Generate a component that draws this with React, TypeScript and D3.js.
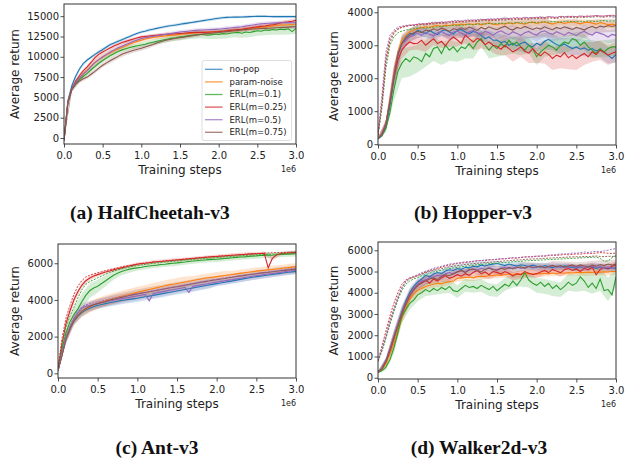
import React, { useEffect, useRef } from "react";
import * as d3 from "d3";

// tab10 colours, one per method
const COLORS = ["#1f77b4", "#ff7f0e", "#2ca02c", "#d62728", "#9467bd", "#8c564b"];
const NAMES = ["no-pop", "param-noise", "ERL(m=0.1)", "ERL(m=0.25)", "ERL(m=0.5)", "ERL(m=0.75)"];

// training steps (x 1e6), every 0.05e6
const steps = d3.range(61).map((i) => i * 0.05);
const xTicks = [0, 0.5, 1, 1.5, 2, 2.5, 3];

// ---------------- HalfCheetah-v3 ----------------
const hcNoPop = [
  -300, 4600, 6400, 7600, 8500, 9200, 9600, 9950, 10300, 10600,
  10900, 11200, 11500, 11700, 11900, 12100, 12300, 12500, 12700, 12900,
  13050, 13150, 13300, 13400, 13500, 13600, 13700, 13800, 13850, 13920,
  14000, 14080, 14150, 14220, 14300, 14380, 14450, 14520, 14600, 14680,
  14750, 14800, 14850, 14870, 14900, 14880, 14900, 14920, 14950, 14960,
  15000, 14980, 15000, 14970, 14950, 14960, 14950, 14940, 14950, 14960,
  14950,
];
const hcParam = [
  -300, 4400, 6000, 6800, 7400, 7900, 8350, 8850, 9300, 9650,
  9950, 10250, 10500, 10750, 10950, 11150, 11350, 11550, 11750, 11900,
  12050, 12180, 12300, 12380, 12450, 12500, 12550, 12600, 12650, 12700,
  12750, 12800, 12850, 12900, 12950, 12980, 13000, 13020, 13050, 13080,
  13100, 13150, 13200, 13250, 13300, 13350, 13400, 13450, 13500, 13550,
  13600, 13650, 13700, 13750, 13800, 13850, 13900, 13920, 13950, 13980,
  14000,
];
const hcM01 = [
  -300, 4300, 6000, 6700, 7200, 7600, 7950, 8400, 8800, 9200,
  9550, 9850, 10150, 10400, 10650, 10850, 11000, 11150, 11250, 11350,
  11450, 11550, 11700, 11800, 11900, 12000, 12100, 12200, 12300, 12350,
  12450, 12500, 12600, 12650, 12700, 12750, 12750, 12650, 12700, 12800,
  12750, 12850, 12800, 12900, 12950, 13000, 12900, 13050, 13000, 13100,
  13200, 13150, 13300, 13250, 13350, 13300, 13400, 13350, 13450, 13100,
  13500,
];
const hcM025 = [
  -300, 4400, 6000, 7000, 7700, 8300, 8750, 9300, 9900, 10300,
  10600, 10850, 11100, 11350, 11550, 11750, 11900, 12050, 12200, 12350,
  12450, 12500, 12550, 12600, 12650, 12700, 12750, 12780, 12800, 12830,
  12870, 12900, 12950, 12980, 13000, 13000, 13000, 13020, 13050, 13080,
  13100, 13150, 13200, 13250, 13300, 13350, 13400, 13480, 13550, 13620,
  13680, 13740, 13800, 13880, 13950, 14050, 14150, 14250, 14300, 14380,
  14480,
];
const hcM05 = [
  -300, 4400, 6000, 6800, 7400, 7900, 8300, 8800, 9300, 9650,
  10000, 10300, 10600, 10850, 11100, 11300, 11500, 11700, 11900, 12080,
  12250, 12350, 12450, 12520, 12600, 12680, 12750, 12820, 12900, 12980,
  13050, 13100, 13150, 13200, 13250, 13280, 13300, 13320, 13350, 13380,
  13400, 13450, 13500, 13550, 13600, 13650, 13700, 13780, 13850, 13920,
  14000, 14050, 14100, 14130, 14150, 14180, 14200, 14200, 14220, 14200,
  14200,
];
const hcM075 = [
  -300, 4300, 6000, 6600, 7000, 7300, 7500, 7850, 8200, 8600,
  8950, 9250, 9550, 9800, 10050, 10300, 10500, 10650, 10800, 10920,
  11050, 11200, 11350, 11500, 11700, 11850, 12000, 12100, 12200, 12280,
  12350, 12420, 12500, 12580, 12650, 12720, 12800, 12850, 12900, 12950,
  13000, 13050, 13100, 13150, 13200, 13250, 13300, 13350, 13400, 13420,
  13450, 13480, 13500, 13520, 13550, 13580, 13600, 13620, 13650, 13680,
  13700,
];
// std band, every 0.1e6
const hcSd = [
  [50, 300, 250, 200, 200, 200, 200, 200, 200, 180, 180, 180, 180, 180, 180, 180, 180, 180, 180, 180, 180, 180, 150, 150, 150, 150, 150, 150, 150, 150, 150],
  [50, 300, 300, 350, 400, 400, 400, 350, 350, 300, 300, 300, 300, 300, 300, 300, 300, 300, 300, 300, 300, 300, 300, 300, 300, 300, 300, 300, 300, 300, 300],
  [50, 300, 300, 250, 300, 300, 300, 300, 300, 300, 300, 300, 350, 400, 400, 450, 450, 450, 500, 500, 550, 550, 550, 550, 600, 600, 650, 650, 700, 700, 700],
  [50, 300, 250, 250, 250, 250, 200, 200, 200, 200, 200, 200, 200, 200, 200, 200, 200, 200, 200, 200, 200, 200, 250, 250, 250, 250, 250, 250, 250, 250, 250],
  [50, 300, 300, 300, 300, 300, 300, 300, 300, 250, 250, 250, 250, 250, 250, 250, 250, 250, 250, 250, 250, 250, 250, 250, 250, 250, 250, 250, 250, 250, 250],
  [50, 300, 250, 250, 250, 250, 300, 300, 300, 300, 300, 300, 250, 250, 250, 250, 250, 250, 250, 250, 250, 250, 250, 250, 250, 250, 250, 250, 250, 250, 250],
];

// ---------------- Hopper-v3 ----------------
const hoNoPop = [
  160, 250, 500, 1150, 2000, 2700, 3050, 3250, 3360, 3330,
  3460, 3400, 3350, 3450, 3380, 3320, 3430, 3470, 3400, 3340,
  3450, 3480, 3400, 3350, 3420, 3380, 3300, 3200, 3250, 3150,
  3160, 3080, 3120, 3000, 3060, 2980, 3050, 3100, 3000, 2950,
  3060, 3000, 3120, 3180, 3100, 3020, 2980, 3040, 2960, 2900,
  2950, 2880, 2920, 2850, 2900, 2830, 2870, 2800, 2700, 2600,
  2720,
];
const hoParam = [
  180, 320, 650, 1350, 2150, 2800, 3150, 3300, 3400, 3460,
  3510, 3530, 3560, 3540, 3580, 3600, 3570, 3610, 3590, 3630,
  3610, 3640, 3620, 3650, 3630, 3660, 3620, 3650, 3680, 3640,
  3620, 3660, 3640, 3680, 3650, 3690, 3660, 3640, 3680, 3700,
  3660, 3690, 3710, 3670, 3640, 3680, 3700, 3660, 3690, 3710,
  3680, 3650, 3690, 3700, 3670, 3640, 3690, 3660, 3620, 3640,
  3610,
];
const hoM01 = [
  170, 260, 480, 950, 1650, 2200, 2450, 2600, 2500, 2650,
  2600, 2500, 2750, 2650, 2900, 2950, 2750, 3000, 2850, 2950,
  2800, 2950, 2900, 3050, 2900, 3100, 3200, 3000, 2850, 3000,
  2900, 3050, 2950, 3150, 3000, 3100, 2950, 2850, 3000, 2900,
  2650, 2800, 2900, 3000, 2950, 2850, 3000, 3100, 3050, 3200,
  3150, 3000, 3100, 2950, 2850, 2750, 2900, 2800, 2900, 2950,
  2950,
];
const hoM025 = [
  180, 300, 620, 1300, 2000, 2550, 2850, 3000, 3100, 3050,
  3060, 3150, 3000, 3100, 3200, 3050, 3120, 2980, 3150, 3250,
  3160, 3050, 3310, 3200, 3100, 3210, 3150, 3020, 3100, 3000,
  2960, 2880, 3000, 2900, 2800, 2860, 2950, 2820, 2760, 2900,
  2760, 2680, 2800, 2720, 2600, 2700, 2650, 2780, 2620, 2700,
  2600, 2680, 2750, 2650, 2800, 2720, 2850, 2780, 2700, 2760,
  2800,
];
const hoM05 = [
  180, 310, 650, 1300, 2100, 2750, 3050, 3150, 3260, 3300,
  3360, 3300, 3400, 3330, 3280, 3380, 3420, 3350, 3300, 3400,
  3430, 3360, 3310, 3400, 3450, 3380, 3330, 3420, 3380, 3300,
  3390, 3440, 3370, 3320, 3410, 3360, 3300, 3380, 3420, 3350,
  3310, 3400, 3440, 3370, 3330, 3410, 3360, 3300, 3390, 3350,
  3290, 3380, 3420, 3350, 3310, 3400, 3360, 3320, 3250, 3330,
  3300,
];
const hoM075 = [
  180, 300, 600, 1250, 2050, 2700, 3050, 3200, 3300, 3380,
  3420, 3380, 3460, 3430, 3500, 3450, 3520, 3480, 3420, 3500,
  3470, 3530, 3480, 3550, 3500, 3450, 3540, 3490, 3560, 3510,
  3470, 3530, 3580, 3500, 3460, 3540, 3510, 3570, 3520, 3480,
  3530, 3490, 3560, 3510, 3470, 3540, 3500, 3560, 3520, 3480,
  3540, 3510, 3460, 3530, 3570, 3520, 3580, 3550, 3600, 3570,
  3600,
];
// best member of the population (dashed)
const hoBestM01 = [
  250, 1100, 2300, 3000, 3250, 3380, 3430, 3460, 3480, 3500,
  3520, 3530, 3510, 3550, 3540, 3560, 3580, 3570, 3590, 3600,
  3610, 3600, 3620, 3630, 3620, 3640, 3650, 3640, 3660, 3650,
  3660, 3670, 3660, 3680, 3670, 3690, 3680, 3670, 3690, 3700,
  3690, 3700, 3710, 3700, 3720, 3710, 3700, 3720, 3730, 3710,
  3720, 3730, 3720, 3740, 3730, 3720, 3740, 3750, 3730, 3740,
  3730,
];
const hoBestM025 = [
  280, 1300, 2600, 3200, 3400, 3500, 3550, 3580, 3600, 3620,
  3630, 3640, 3660, 3650, 3670, 3690, 3680, 3700, 3710, 3720,
  3730, 3720, 3740, 3750, 3760, 3750, 3770, 3780, 3770, 3790,
  3780, 3800, 3790, 3810, 3800, 3820, 3810, 3830, 3820, 3840,
  3830, 3850, 3840, 3860, 3850, 3840, 3870, 3860, 3880, 3870,
  3860, 3880, 3870, 3890, 3880, 3900, 3890, 3880, 3900, 3910,
  3900,
];
const hoBestM05 = [
  300, 1500, 2800, 3300, 3450, 3550, 3580, 3600, 3620, 3610,
  3650, 3660, 3640, 3680, 3700, 3690, 3710, 3700, 3720, 3740,
  3750, 3740, 3760, 3770, 3760, 3780, 3790, 3780, 3800, 3790,
  3810, 3800, 3820, 3810, 3830, 3840, 3820, 3850, 3840, 3830,
  3850, 3860, 3840, 3870, 3860, 3850, 3880, 3870, 3860, 3880,
  3870, 3890, 3880, 3870, 3890, 3900, 3880, 3890, 3900, 3890,
  3880,
];
const hoBestM075 = [
  260, 1200, 2500, 3100, 3350, 3480, 3540, 3570, 3600, 3590,
  3620, 3630, 3610, 3650, 3640, 3660, 3670, 3660, 3690, 3680,
  3700, 3710, 3700, 3720, 3730, 3720, 3740, 3750, 3740, 3760,
  3750, 3770, 3760, 3780, 3770, 3790, 3780, 3800, 3790, 3810,
  3800, 3820, 3810, 3830, 3820, 3810, 3840, 3830, 3850, 3840,
  3830, 3850, 3840, 3860, 3850, 3870, 3860, 3850, 3870, 3860,
  3850,
];
const hoSd = [
  [30, 100, 300, 200, 150, 150, 150, 150, 150, 150, 150, 150, 150, 150, 200, 200, 200, 200, 250, 250, 250, 250, 250, 250, 250, 250, 250, 250, 250, 250, 250],
  [30, 100, 300, 200, 120, 100, 100, 100, 100, 100, 100, 100, 100, 100, 100, 100, 100, 100, 100, 100, 100, 100, 100, 100, 100, 100, 100, 100, 100, 100, 100],
  [30, 120, 350, 450, 450, 420, 400, 380, 350, 320, 300, 300, 300, 250, 250, 250, 250, 250, 250, 250, 250, 250, 250, 250, 250, 250, 250, 250, 250, 250, 250],
  [30, 100, 300, 250, 250, 200, 200, 200, 200, 200, 200, 250, 250, 250, 250, 250, 300, 300, 300, 300, 300, 350, 350, 350, 350, 350, 350, 300, 300, 300, 300],
  [30, 100, 300, 200, 150, 150, 150, 150, 150, 150, 150, 150, 150, 150, 150, 150, 200, 200, 200, 200, 200, 200, 200, 200, 200, 200, 200, 200, 200, 200, 200],
  [30, 100, 300, 250, 200, 200, 200, 200, 200, 250, 250, 250, 250, 250, 250, 300, 300, 300, 300, 300, 300, 300, 250, 250, 250, 250, 250, 200, 200, 200, 200],
];

// ---------------- Ant-v3 ----------------
const anNoPop = [
  150, 1000, 1900, 2450, 2850, 3100, 3300, 3450, 3550, 3640,
  3700, 3750, 3800, 3850, 3890, 3930, 3970, 4000, 4030, 4060,
  4090, 4130, 4170, 4210, 4250, 4290, 4330, 4370, 4410, 4450,
  4490, 4530, 4570, 4610, 4650, 4690, 4730, 4770, 4810, 4850,
  4890, 4920, 4960, 5000, 5040, 5080, 5120, 5160, 5200, 5240,
  5270, 5300, 5330, 5360, 5390, 5420, 5450, 5480, 5510, 5530,
  5550,
];
const anParam = [
  150, 1000, 1900, 2500, 2900, 3150, 3350, 3500, 3620, 3720,
  3800, 3880, 3950, 4020, 4080, 4140, 4200, 4260, 4310, 4360,
  4420, 4470, 4520, 4570, 4620, 4670, 4720, 4770, 4820, 4860,
  4900, 4940, 4980, 5020, 5060, 5100, 5140, 5180, 5210, 5240,
  5270, 5300, 5330, 5360, 5390, 5420, 5450, 5480, 5510, 5540,
  5570, 5600, 5620, 5640, 5660, 5690, 5710, 5740, 5760, 5790,
  5820,
];
const anM01 = [
  200, 1300, 2200, 2800, 3200, 3500, 3900, 4250, 4500, 4650,
  4750, 4900, 5050, 5200, 5350, 5450, 5550, 5620, 5680, 5720,
  5750, 5780, 5820, 5850, 5880, 5900, 5930, 5950, 5980, 6000,
  6020, 6050, 6070, 6100, 6120, 6140, 6160, 6180, 6200, 6210,
  6220, 6240, 6260, 6280, 6300, 6320, 6340, 6350, 6370, 6390,
  6400, 6420, 6430, 6450, 6440, 6460, 6480, 6490, 6500, 6510,
  6520,
];
const anM025 = [
  200, 1600, 2700, 3400, 4000, 4450, 4800, 5050, 5200, 5300,
  5380, 5450, 5520, 5580, 5640, 5700, 5750, 5800, 5850, 5900,
  5950, 5980, 6000, 6030, 6060, 6080, 6100, 6120, 6140, 6160,
  6180, 6200, 6220, 6240, 6260, 6280, 6300, 6320, 6340, 6360,
  6370, 6390, 6400, 6420, 6440, 6450, 6470, 6480, 6500, 6510,
  6520, 6530, 6540, 5750, 6250, 6450, 6520, 6540, 6560, 6580,
  6590,
];
const anM05 = [
  150, 1000, 1900, 2500, 2950, 3300, 3550, 3650, 3700, 3750,
  3800, 3850, 3900, 3940, 3980, 4020, 4060, 4100, 4140, 4180,
  4220, 4260, 4300, 3950, 4350, 4400, 4440, 4480, 4520, 4560,
  4600, 4640, 4680, 4400, 4740, 4780, 4820, 4860, 4900, 4940,
  4980, 5010, 5040, 5080, 5110, 5150, 5180, 5220, 5250, 5290,
  5320, 5350, 5380, 5410, 5440, 5470, 5500, 5530, 5560, 5590,
  5620,
];
const anM075 = [
  150, 950, 1850, 2400, 2850, 3150, 3380, 3530, 3640, 3740,
  3800, 3860, 3920, 3980, 4040, 4090, 4140, 4190, 4240, 4290,
  4330, 4370, 4410, 4450, 4490, 4530, 4570, 4610, 4650, 4690,
  4720, 4760, 4800, 4840, 4880, 4920, 4960, 5000, 5030, 5070,
  5100, 5140, 5170, 5210, 5240, 5280, 5310, 5340, 5370, 5400,
  5430, 5460, 5490, 5510, 5540, 5560, 5590, 5610, 5640, 5660,
  5680,
];
const anBestM01 = [
  250, 1500, 2500, 3100, 3600, 4100, 4550, 4850, 5000, 5100,
  5200, 5300, 5400, 5500, 5570, 5640, 5700, 5750, 5800, 5840,
  5880, 5910, 5940, 5970, 6000, 6030, 6050, 6070, 6090, 6110,
  6130, 6150, 6170, 6190, 6210, 6230, 6250, 6270, 6280, 6300,
  6310, 6330, 6350, 6360, 6380, 6390, 6410, 6420, 6440, 6450,
  6460, 6470, 6480, 6490, 6500, 6510, 6520, 6530, 6540, 6550,
  6560,
];
const anBestM025 = [
  300, 1900, 3000, 3700, 4300, 4750, 5050, 5250, 5350, 5420,
  5480, 5540, 5600, 5650, 5700, 5750, 5800, 5840, 5880, 5920,
  5960, 5990, 6020, 6040, 6070, 6090, 6110, 6130, 6150, 6170,
  6190, 6210, 6230, 6250, 6270, 6290, 6310, 6330, 6340, 6360,
  6380, 6390, 6410, 6430, 6440, 6460, 6470, 6490, 6500, 6520,
  6530, 6540, 6550, 6560, 6570, 6580, 6580, 6590, 6600, 6610,
  6620,
];
const anBestM05 = [
  200, 1100, 2000, 2600, 3050, 3400, 3620, 3720, 3790, 3850,
  3900, 3950, 4000, 4050, 4100, 4140, 4180, 4220, 4260, 4300,
  4340, 4380, 4420, 4460, 4500, 4540, 4580, 4620, 4660, 4700,
  4740, 4780, 4820, 4860, 4900, 4940, 4980, 5020, 5060, 5100,
  5130, 5160, 5200, 5230, 5260, 5290, 5320, 5350, 5380, 5410,
  5440, 5470, 5500, 5530, 5560, 5590, 5620, 5650, 5680, 5710,
  5740,
];
const anSd = [
  [50, 250, 200, 200, 200, 200, 200, 200, 200, 200, 200, 200, 200, 200, 200, 200, 200, 200, 200, 200, 150, 150, 150, 150, 150, 150, 150, 150, 150, 150, 150],
  [50, 250, 250, 300, 300, 300, 300, 300, 300, 300, 300, 300, 300, 300, 300, 300, 300, 250, 250, 250, 250, 250, 200, 200, 200, 200, 200, 200, 200, 200, 200],
  [50, 300, 400, 450, 400, 350, 300, 250, 200, 200, 150, 150, 150, 150, 150, 150, 150, 150, 150, 150, 150, 150, 150, 150, 150, 150, 150, 150, 150, 150, 150],
  [50, 250, 200, 150, 120, 100, 100, 100, 100, 100, 100, 100, 100, 100, 100, 100, 100, 100, 100, 100, 100, 100, 100, 100, 100, 100, 100, 100, 100, 100, 100],
  [50, 250, 250, 250, 250, 250, 250, 250, 250, 250, 250, 250, 250, 250, 250, 250, 250, 250, 250, 250, 200, 200, 200, 200, 200, 200, 200, 200, 200, 200, 200],
  [50, 250, 250, 250, 250, 250, 250, 250, 250, 250, 250, 250, 250, 250, 250, 250, 250, 250, 250, 250, 200, 200, 200, 200, 200, 200, 200, 200, 200, 200, 200],
];

// ---------------- Walker2d-v3 ----------------
const waNoPop = [
  280, 450, 800, 1300, 1900, 2500, 3100, 3600, 4000, 4300,
  4500, 4650, 4820, 4750, 4880, 4950, 4900, 5020, 5080, 5050,
  5140, 5100, 5200, 5170, 5250, 5220, 5300, 5260, 5320, 5350,
  5380, 5330, 5280, 5350, 5300, 5260, 5320, 5280, 5240, 5300,
  5250, 5200, 5280, 5230, 5180, 5260, 5210, 5270, 5230, 5190,
  5160, 5220, 5180, 5240, 5200, 5150, 5210, 5170, 5120, 5180,
  5140,
];
const waParam = [
  260, 380, 650, 1100, 1600, 2200, 2800, 3300, 3700, 3950,
  4100, 4200, 4300, 4350, 4400, 4450, 4420, 4480, 4520, 4550,
  4680, 4700, 4720, 4740, 4700, 4760, 4780, 4770, 4800, 4820,
  4850, 4820, 4860, 4880, 4860, 4890, 4870, 4900, 4910, 4890,
  4880, 4900, 4920, 4890, 4930, 4910, 4940, 4920, 4950, 4930,
  4950, 4960, 4940, 4970, 4960, 4980, 4970, 4990, 4980, 5000,
  5000,
];
const waM01 = [
  250, 330, 500, 850, 1400, 2100, 2900, 3200, 3500, 3650,
  3900, 4000, 4150, 4050, 4200, 4100, 4250, 4150, 4300, 4100,
  4050, 4200, 4350, 4250, 4300, 4200, 4350, 4250, 4150, 4300,
  4100, 4250, 4400, 4300, 4550, 4350, 4600, 4950, 4600, 4450,
  4350, 4500, 4300, 4450, 4200, 4350, 4150, 4300, 4500, 4350,
  4450, 4750, 4550, 4250, 4450, 4200, 4650, 4100, 4150, 3900,
  4750,
];
const waM025 = [
  270, 420, 750, 1250, 1850, 2450, 3000, 3500, 3900, 4150,
  4350, 4500, 4600, 4450, 4650, 4550, 4700, 4800, 4680, 4750,
  4850, 4780, 4900, 4820, 4950, 5050, 4900, 4980, 4850, 5000,
  4960, 4880, 5000, 4920, 4780, 4900, 4850, 5000, 4920, 4860,
  4900, 4980, 5050, 4950, 5100, 5020, 4950, 5080, 5150, 5050,
  5120, 5000, 5150, 5080, 5200, 4850, 5100, 5200, 5150, 5250,
  5300,
];
const waM05 = [
  270, 440, 800, 1350, 1950, 2500, 3050, 3500, 3900, 4200,
  4400, 4550, 4600, 4700, 4750, 4820, 4780, 4900, 4950, 4880,
  5000, 5050, 4980, 5080, 5120, 5060, 5150, 5100, 5180, 5120,
  5080, 5160, 5200, 5130, 5180, 5220, 5150, 5190, 5240, 5170,
  5200, 5250, 5180, 5230, 5270, 5200, 5240, 5180, 5220, 5260,
  5200, 5240, 5180, 5220, 5260, 5190, 5230, 5170, 5210, 5150,
  5190,
];
const waM075 = [
  270, 430, 780, 1300, 1900, 2450, 3000, 3450, 3850, 4150,
  4350, 4450, 4550, 4650, 4700, 4620, 4780, 4850, 4800, 4900,
  4980, 5050, 4950, 5080, 5120, 5050, 4980, 5100, 5150, 5080,
  5060, 5150, 5100, 5200, 5120, 5180, 5220, 5150, 5250, 5200,
  5210, 5260, 5180, 5240, 5290, 5220, 5280, 5200, 5260, 5300,
  5240, 5310, 5260, 5200, 5300, 5250, 5330, 5280, 5350, 5300,
  5360,
];
const waBestM01 = [
  760, 1250, 1850, 2500, 3100, 3650, 4100, 4400, 4550, 4650,
  4720, 4800, 4860, 4920, 4980, 5020, 5060, 5100, 5140, 5170,
  5200, 5220, 5250, 5270, 5300, 5320, 5330, 5350, 5370, 5380,
  5400, 5410, 5430, 5440, 5460, 5470, 5480, 5500, 5510, 5520,
  5530, 5540, 5550, 5560, 5570, 5580, 5590, 5600, 5610, 5620,
  5630, 5640, 5650, 5660, 5670, 5680, 5620, 5480, 5500, 5650,
  5760,
];
const waBestM025 = [
  800, 1500, 2200, 2900, 3500, 4000, 4400, 4600, 4700, 4750,
  4820, 4900, 4980, 5050, 5100, 5160, 5200, 5260, 5300, 5340,
  5380, 5400, 5420, 5450, 5470, 5500, 5520, 5510, 5540, 5560,
  5570, 5590, 5600, 5620, 5640, 5630, 5660, 5680, 5700, 5690,
  5710, 5730, 5720, 5750, 5770, 5760, 5780, 5800, 5790, 5810,
  5830, 5820, 5840, 5860, 5850, 5870, 5890, 5880, 5860, 5850,
  5870,
];
const waBestM05 = [
  800, 1400, 2000, 2700, 3250, 3800, 4250, 4550, 4700, 4780,
  4850, 4950, 5020, 5080, 5150, 5200, 5250, 5300, 5350, 5380,
  5400, 5430, 5460, 5450, 5490, 5520, 5510, 5550, 5570, 5560,
  5580, 5610, 5600, 5630, 5650, 5640, 5670, 5690, 5680, 5710,
  5730, 5720, 5750, 5780, 5770, 5800, 5830, 5820, 5850, 5870,
  5860, 5890, 5920, 5900, 5930, 5950, 5940, 5970, 6000, 6050,
  6080,
];
const waBestM075 = [
  780, 1300, 1900, 2600, 3200, 3750, 4200, 4500, 4650, 4720,
  4800, 4870, 4940, 5000, 5050, 5100, 5140, 5180, 5220, 5250,
  5280, 5300, 5330, 5350, 5370, 5390, 5400, 5420, 5440, 5450,
  5470, 5480, 5500, 5510, 5530, 5540, 5550, 5570, 5580, 5590,
  5600, 5610, 5620, 5630, 5640, 5650, 5660, 5670, 5680, 5690,
  5700, 5690, 5710, 5700, 5720, 5730, 5710, 5700, 5720, 5710,
  5720,
];
const waSd = [
  [30, 150, 300, 300, 250, 200, 200, 200, 200, 200, 200, 200, 200, 200, 150, 150, 150, 150, 150, 150, 150, 150, 150, 150, 150, 150, 150, 150, 150, 150, 150],
  [30, 150, 300, 300, 250, 200, 150, 150, 150, 150, 150, 150, 150, 150, 150, 150, 150, 150, 150, 150, 150, 150, 150, 150, 150, 150, 150, 150, 150, 150, 150],
  [30, 150, 300, 300, 300, 300, 300, 300, 300, 300, 300, 300, 300, 300, 300, 300, 300, 300, 300, 350, 350, 350, 350, 350, 400, 400, 450, 500, 550, 550, 500],
  [30, 150, 300, 300, 250, 250, 200, 200, 200, 200, 200, 200, 200, 200, 200, 200, 200, 200, 200, 200, 200, 200, 200, 200, 200, 200, 200, 200, 200, 200, 200],
  [30, 150, 300, 300, 250, 200, 200, 200, 200, 200, 150, 150, 150, 150, 150, 150, 150, 150, 150, 150, 150, 150, 150, 150, 150, 150, 150, 150, 150, 150, 150],
  [30, 150, 300, 300, 250, 200, 200, 200, 200, 200, 200, 200, 200, 200, 200, 200, 200, 200, 200, 200, 200, 200, 200, 200, 200, 200, 200, 200, 200, 200, 200],
];

const panels = [
  {
    key: "a", caption: "(a) HalfCheetah-v3", capX: 150, capY: 219,
    left: 64, top: 4, right: 296, bottom: 144, yDomain: [-740, 16500],
    yTicks: [0, 2500, 5000, 7500, 10000, 12500, 15000],
    solid: [hcNoPop, hcParam, hcM01, hcM025, hcM05, hcM075], sd: hcSd,
    dashed: [] as { c: number; v: number[] }[], labelX: 18.5, legend: true,
  },
  {
    key: "b", caption: "(b) Hopper-v3", capX: 473, capY: 219,
    left: 378, top: 7, right: 616, bottom: 145, yDomain: [-25, 4160],
    yTicks: [0, 1000, 2000, 3000, 4000],
    solid: [hoNoPop, hoParam, hoM01, hoM025, hoM05, hoM075], sd: hoSd,
    dashed: [{ c: 2, v: hoBestM01 }, { c: 5, v: hoBestM075 }, { c: 3, v: hoBestM025 }, { c: 4, v: hoBestM05 }],
    labelX: 337.5, legend: false,
  },
  {
    key: "c", caption: "(c) Ant-v3", capX: 157, capY: 454,
    left: 58, top: 244, right: 296, bottom: 378, yDomain: [-256, 7050],
    yTicks: [0, 2000, 4000, 6000],
    solid: [anNoPop, anParam, anM01, anM025, anM05, anM075], sd: anSd,
    dashed: [{ c: 4, v: anBestM05 }, { c: 2, v: anBestM01 }, { c: 3, v: anBestM025 }],
    labelX: 18.5, legend: false,
  },
  {
    key: "d", caption: "(d) Walker2d-v3", capX: 479, capY: 454,
    left: 378, top: 242, right: 616, bottom: 379, yDomain: [-60, 6390],
    yTicks: [0, 1000, 2000, 3000, 4000, 5000, 6000],
    solid: [waNoPop, waParam, waM01, waM025, waM05, waM075], sd: waSd,
    dashed: [{ c: 2, v: waBestM01 }, { c: 5, v: waBestM075 }, { c: 3, v: waBestM025 }, { c: 4, v: waBestM05 }],
    labelX: 337.5, legend: false,
  },
];

const FONT = "DejaVu Sans, sans-serif";

const App = () => {
  const svgRef = useRef<SVGSVGElement>(null);

  useEffect(() => {
    const svg = d3.select(svgRef.current);
    svg.selectAll("*").remove();
    svg.append("rect").attr("width", 625).attr("height", 462).attr("fill", "white");

    panels.forEach((p) => {
      const x = d3.scaleLinear().domain([0, 3]).range([p.left, p.right]);
      const y = d3.scaleLinear().domain(p.yDomain).range([p.bottom, p.top]);
      const clipId = "clip-" + p.key;
      svg.append("clipPath").attr("id", clipId).append("rect")
        .attr("x", p.left).attr("y", p.top)
        .attr("width", p.right - p.left).attr("height", p.bottom - p.top);

      const plot = svg.append("g").attr("clip-path", `url(#${clipId})`);

      // shaded std bands (sampled every 0.1e6)
      p.sd.forEach((sd, k) => {
        const mean = p.solid[k];
        const area = d3.area<number>()
          .x((_, i) => x(steps[2 * i]))
          .y0((s, i) => y(mean[2 * i] - s))
          .y1((s, i) => y(mean[2 * i] + s));
        plot.append("path").datum(sd).attr("d", area)
          .attr("fill", COLORS[k]).attr("fill-opacity", 0.2);
      });

      const line = d3.line<number>().x((_, i) => x(steps[i])).y((v) => y(v));

      p.solid.forEach((vals, k) => {
        plot.append("path").datum(vals).attr("d", line)
          .attr("fill", "none").attr("stroke", COLORS[k]).attr("stroke-width", 1.1);
      });

      p.dashed.forEach((d) => {
        plot.append("path").datum(d.v).attr("d", line)
          .attr("fill", "none").attr("stroke", COLORS[d.c])
          .attr("stroke-width", 0.9).attr("stroke-dasharray", "2,1.3");
      });

      // axes
      const xAxis = svg.append("g").attr("transform", `translate(0,${p.bottom})`)
        .call(d3.axisBottom(x).tickValues(xTicks).tickFormat(d3.format(".1f"))
          .tickSize(3.5).tickPadding(4).tickSizeOuter(0));
      const yAxis = svg.append("g").attr("transform", `translate(${p.left},0)`)
        .call(d3.axisLeft(y).tickValues(p.yTicks).tickFormat(d3.format("d"))
          .tickSize(3.5).tickPadding(1.5).tickSizeOuter(0));
      [xAxis, yAxis].forEach((a) => {
        a.select(".domain").remove();
        a.selectAll("line").attr("stroke", "#222").attr("stroke-width", 0.8);
        a.selectAll("text").attr("font-family", FONT).attr("font-size", 10).attr("fill", "#222");
      });

      // frame
      svg.append("rect").attr("x", p.left).attr("y", p.top)
        .attr("width", p.right - p.left).attr("height", p.bottom - p.top)
        .attr("fill", "none").attr("stroke", "#333").attr("stroke-width", 1);

      svg.append("text").attr("x", (p.left + p.right) / 2).attr("y", p.bottom + 30)
        .attr("text-anchor", "middle").attr("font-family", FONT).attr("font-size", 12)
        .attr("fill", "#222").text("Training steps");
      svg.append("text").attr("x", p.right).attr("y", p.bottom + 28)
        .attr("text-anchor", "end").attr("font-family", FONT).attr("font-size", 8)
        .attr("fill", "#222").text("1e6");
      svg.append("text")
        .attr("transform", `translate(${p.labelX},${(p.top + p.bottom) / 2}) rotate(-90)`)
        .attr("text-anchor", "middle").attr("font-family", FONT).attr("font-size", 12)
        .attr("fill", "#222").text("Average return");

      svg.append("text").attr("x", p.capX).attr("y", p.capY)
        .attr("text-anchor", "middle").attr("font-family", "Liberation Serif, serif")
        .attr("font-weight", "bold").attr("font-size", 19.5).attr("fill", "#111")
        .text(p.caption);

      if (p.legend) {
        const lg = svg.append("g");
        lg.append("rect").attr("x", 202).attr("y", 60.5).attr("width", 89.5).attr("height", 80)
          .attr("rx", 2).attr("fill", "white").attr("fill-opacity", 0.85)
          .attr("stroke", "#d5d5d5").attr("stroke-width", 0.8);
        NAMES.forEach((n, k) => {
          const yy = 69.3 + k * 12.6;
          lg.append("line").attr("x1", 205).attr("x2", 222.5).attr("y1", yy).attr("y2", yy)
            .attr("stroke", COLORS[k]).attr("stroke-width", 1.3).attr("stroke-opacity", 0.75);
          lg.append("text").attr("x", 229.5).attr("y", yy).attr("dy", "0.35em")
            .attr("font-family", FONT).attr("font-size", 8.5).attr("fill", "#222").text(n);
        });
      }
    });
  }, []);

  return (
    <svg ref={svgRef} width={625} height={462}
      style={{ position: "absolute", left: 0, top: 0, display: "block" }} />
  );
};

export default App;
